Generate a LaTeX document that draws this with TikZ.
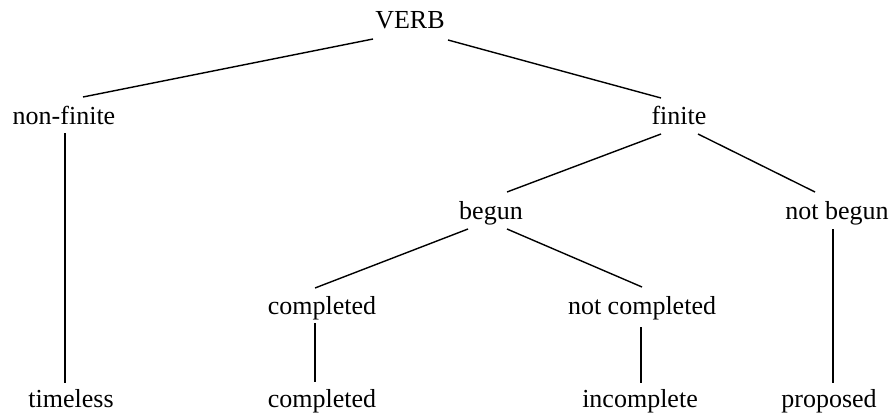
\documentclass[tikz,border=0pt]{standalone}
\usepackage{fontspec}
\setmainfont{Liberation Serif}
\usepackage{tikz}
\usetikzlibrary{calc}

\begin{document}
\begin{tikzpicture}[x=1pt, y=1pt,
    word/.style={inner sep=0pt, anchor=base, font=\fontsize{26}{30}\selectfont},
    branch/.style={line width=1.4pt}]
  \useasboundingbox (0,0) rectangle (891,416);

  % Nodes
  \node[word] (verb) at (410, 387) {VERB};
  \node[word] (nonfinite) at (64, 292) {non-finite};
  \node[word] (finite) at (679, 292) {finite};
  \node[word] (begun) at (491, 197) {begun};
  \node[word] (notbegun) at (837, 197) {not begun};
  \node[word] (complA) at (322, 102) {completed};
  \node[word] (notcompl) at (642, 102) {not completed};
  \node[word] (timeless) at (71, 9) {timeless};
  \node[word] (complB) at (322, 9) {completed};
  \node[word] (incompl) at (640, 9) {incomplete};
  \node[word] (proposed) at (829, 9) {proposed};

  % Edges
  \draw[branch] ([shift={(-37,-10)}]verb.base) -- ([shift={(19,27)}]nonfinite.base);
  \draw[branch] ([shift={(38,-11)}]verb.base) -- ([shift={(-18,26)}]finite.base);
  \draw[branch] ([shift={(1,-9)}]nonfinite.base) -- ([shift={(-6,24)}]timeless.base);
  \draw[branch] ([shift={(-18,-10)}]finite.base) -- ([shift={(16,27)}]begun.base);
  \draw[branch] ([shift={(19,-10)}]finite.base) -- ([shift={(-22,27)}]notbegun.base);
  \draw[branch] ([shift={(-23,-10)}]begun.base) -- ([shift={(-7,26)}]complA.base);
  \draw[branch] ([shift={(16,-10)}]begun.base) -- ([shift={(0,27)}]notcompl.base);
  \draw[branch] ([shift={(-7,-9)}]complA.base) -- ([shift={(-7,25)}]complB.base);
  \draw[branch] ([shift={(-1,-13)}]notcompl.base) -- ([shift={(1,24)}]incompl.base);
  \draw[branch] ([shift={(-4,-10)}]notbegun.base) -- ([shift={(4,24)}]proposed.base);
\end{tikzpicture}
\end{document}
